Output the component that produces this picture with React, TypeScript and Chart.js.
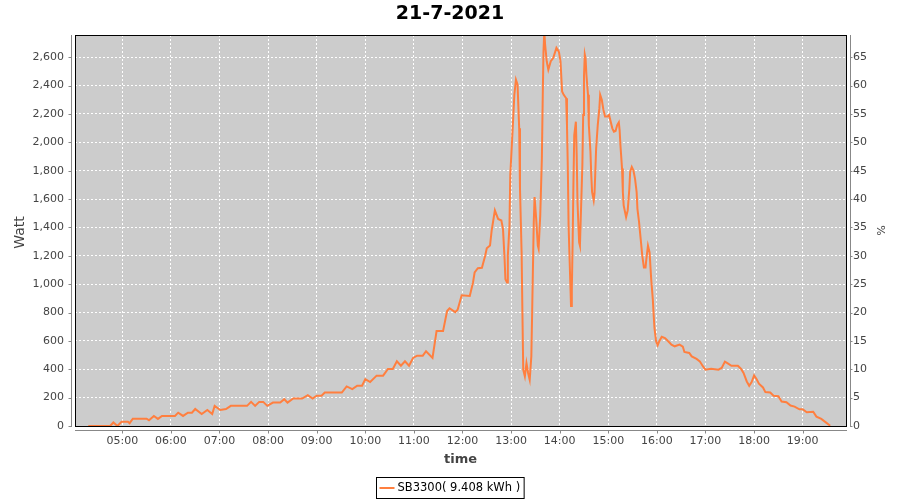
import { useEffect, useRef } from "react";
import { Chart, registerables } from "chart.js";

Chart.register(...registerables);

const chartTitle = "21-7-2021";
const seriesLabel = "SB3300( 9.408 kWh )";
const xTitle = "time";
const yTitle = "Watt";
const y2Title = "%";
const hourTicks = ["05:00", "06:00", "07:00", "08:00", "09:00", "10:00", "11:00", "12:00", "13:00", "14:00", "15:00", "16:00", "17:00", "18:00", "19:00"];
const xRange = ["04:01.6", "19:53.5"];
const wattMax = 2757;
const wattPerPercent = 40;

const times = [
  "04:18", "04:45", "04:49", "04:54", "04:59", "05:07", "05:09", "05:13", "05:30", "05:33",
  "05:39", "05:44", "05:49", "06:05", "06:09", "06:15", "06:21", "06:26", "06:30", "06:38",
  "06:45", "06:51", "06:54", "07:01", "07:08", "07:14", "07:34", "07:39", "07:44", "07:49",
  "07:54", "07:59", "08:06", "08:15", "08:20", "08:24", "08:31", "08:42", "08:49", "08:55",
  "09:00", "09:06", "09:10", "09:31", "09:37", "09:44", "09:50", "09:56", "10:00", "10:06",
  "10:14", "10:22", "10:28", "10:34", "10:39", "10:44", "10:49", "10:54", "10:59", "11:04",
  "11:11", "11:15", "11:23", "11:28", "11:36", "11:41", "11:44", "11:51", "11:54", "11:59",
  "12:09", "12:13", "12:15", "12:19", "12:24", "12:28", "12:30", "12:34", "12:36", "12:38",
  "12:40", "12:44", "12:48", "12:50", "12:52", "12:53", "12:55", "12:56", "12:58", "12:59",
  "13:02", "13:04", "13:06", "13:08", "13:10", "13:11", "13:13", "13:14", "13:15", "13:17",
  "13:19", "13:21", "13:23", "13:25", "13:26", "13:28", "13:29", "13:31", "13:33", "13:34",
  "13:36", "13:38", "13:39", "13:40", "13:41", "13:42", "13:44", "13:46", "13:49", "13:52",
  "13:56", "13:59", "14:01", "14:03", "14:05", "14:08", "14:09", "14:10", "14:11", "14:13",
  "14:14", "14:15", "14:16", "14:17", "14:18", "14:20", "14:21", "14:22", "14:24", "14:25",
  "14:28", "14:29", "14:30", "14:31", "14:32", "14:33", "14:35", "14:36", "14:38", "14:39",
  "14:40", "14:42", "14:43", "14:44", "14:45", "14:47", "14:49", "14:50", "14:52", "14:54",
  "14:56", "14:59", "15:01", "15:03", "15:05", "15:07", "15:09", "15:11", "15:13", "15:14",
  "15:15", "15:17", "15:18", "15:19", "15:22", "15:24", "15:26", "15:27", "15:29", "15:31",
  "15:33", "15:35", "15:36", "15:38", "15:40", "15:42", "15:44", "15:46", "15:47", "15:49",
  "15:51", "15:53", "15:55", "15:56", "15:57", "15:59", "16:01", "16:03", "16:06", "16:10",
  "16:14", "16:18", "16:22", "16:28", "16:32", "16:34", "16:40", "16:43", "16:49", "16:53",
  "16:57", "17:00", "17:07", "17:16", "17:20", "17:24", "17:28", "17:32", "17:40", "17:44",
  "17:47", "17:51", "17:54", "17:57", "18:00", "18:03", "18:06", "18:11", "18:14", "18:20",
  "18:24", "18:30", "18:34", "18:40", "18:45", "18:50", "18:56", "19:00", "19:05", "19:13",
  "19:17", "19:23", "19:29", "19:34",
];

const watts = [
  0, 0, 25, 0, 30, 30, 20, 52, 52, 40,
  71, 50, 71, 71, 94, 71, 94, 94, 120, 85,
  113, 85, 142, 113, 120, 142, 142, 170, 142, 170,
  170, 142, 165, 165, 189, 165, 194, 194, 218, 194,
  213, 213, 236, 236, 279, 260, 284, 284, 331, 310,
  355, 355, 402, 402, 456, 425, 456, 425, 480, 496,
  496, 527, 480, 669, 669, 811, 830, 803, 820, 922,
  917, 1012, 1083, 1113, 1115, 1200, 1253, 1272, 1378, 1449,
  1520, 1460, 1449, 1390, 1177, 1035, 1012, 1200, 1413, 1768,
  2099, 2335, 2441, 2406, 2099, 1673, 1224, 799, 397, 350,
  444, 374, 326, 491, 799, 1437, 1614, 1460, 1272, 1250,
  1484, 1886, 2288, 2643, 2780, 2690, 2572, 2512, 2572, 2595,
  2666, 2640, 2572, 2359, 2335, 2311, 2122, 1838, 1413, 1035,
  846, 964, 1295, 1720, 2051, 2146, 1909, 1579, 1295, 1272,
  1838, 2193, 2465, 2619, 2590, 2477, 2335, 2122, 1934, 1768,
  1650, 1591, 1640, 1792, 1957, 2122, 2241, 2335, 2300, 2229,
  2182, 2182, 2193, 2146, 2099, 2075, 2080, 2122, 2141, 2087,
  1981, 1815, 1650, 1555, 1473, 1520, 1673, 1792, 1827, 1803,
  1744, 1650, 1531, 1437, 1319, 1200, 1118, 1118, 1177, 1272,
  1224, 1035, 893, 787, 693, 598, 569, 598, 629, 620,
  598, 574, 562, 574, 560, 522, 515, 491, 473, 456,
  420, 397, 404, 397, 409, 454, 440, 425, 425, 402,
  374, 314, 284, 310, 357, 331, 298, 272, 239, 236,
  213, 210, 172, 168, 144, 137, 118, 118, 97, 101,
  66, 50, 24, 2,
];

const toMin = (s: string) => {
  const [h, m] = s.split(":");
  return Number(h) * 60 + Number(m);
};
const fmtTime = (v: number) => {
  const h = Math.floor(v / 60);
  const m = Math.round(v - h * 60);
  return String(h).padStart(2, "0") + ":" + String(m).padStart(2, "0");
};

const LINE_COLOR = "rgb(255,127,63)";
const AXIS_COLOR = "#888888";
const TEXT_COLOR = "#444444";
const TICK_FONT = { family: "'DejaVu Sans'", size: 11 };

const framePlugin = {
  id: "frame",
  beforeDraw(chart: any) {
    const { ctx, chartArea: a } = chart;
    ctx.save();
    ctx.fillStyle = "#ffffff";
    ctx.fillRect(0, 0, chart.width, chart.height);
    ctx.fillStyle = "#cccccc";
    ctx.fillRect(a.left, a.top, a.right - a.left, a.bottom - a.top);
    ctx.restore();
  },
  afterDraw(chart: any) {
    const { ctx, chartArea: a, scales } = chart;
    ctx.save();
    // plot outline
    ctx.strokeStyle = "#000000";
    ctx.lineWidth = 1;
    ctx.strokeRect(a.left + 0.5, a.top + 0.5, a.right - a.left, a.bottom - a.top);

    // axis lines offset from plot
    ctx.strokeStyle = AXIS_COLOR;
    ctx.beginPath();
    const lx = a.left - 3.5;
    ctx.moveTo(lx, a.top);
    ctx.lineTo(lx, a.bottom + 1);
    scales.y.ticks.forEach((t: any) => {
      const py = Math.round(scales.y.getPixelForValue(t.value)) + 0.5;
      ctx.moveTo(lx - 3, py);
      ctx.lineTo(lx, py);
    });
    const rx = a.right + 4.5;
    ctx.moveTo(rx, a.top);
    ctx.lineTo(rx, a.bottom + 1);
    scales.y2.ticks.forEach((t: any) => {
      const py = Math.round(scales.y2.getPixelForValue(t.value)) + 0.5;
      ctx.moveTo(rx, py);
      ctx.lineTo(rx + 2, py);
    });
    const by = a.bottom + 4.5;
    ctx.moveTo(a.left, by);
    ctx.lineTo(a.right + 1, by);
    scales.x.ticks.forEach((t: any) => {
      const px = Math.round(scales.x.getPixelForValue(t.value)) + 0.5;
      ctx.moveTo(px, by);
      ctx.lineTo(px, by + 3);
    });
    ctx.stroke();

    // title
    ctx.fillStyle = "#000000";
    ctx.font = "bold 19px 'DejaVu Sans'";
    ctx.textAlign = "center";
    ctx.textBaseline = "middle";
    ctx.fillText(chartTitle, chart.width / 2, 14);

    // axis titles
    ctx.fillStyle = TEXT_COLOR;
    ctx.font = "bold 13px 'DejaVu Sans'";
    ctx.fillText(xTitle, (a.left + a.right) / 2, 460);

    ctx.save();
    ctx.font = "14px 'DejaVu Sans'";
    ctx.translate(20, (a.top + a.bottom) / 2 + 2);
    ctx.rotate(-Math.PI / 2);
    ctx.fillText(yTitle, 0, 0);
    ctx.restore();

    ctx.save();
    ctx.font = "11px 'DejaVu Sans'";
    ctx.translate(880, (a.top + a.bottom) / 2);
    ctx.rotate(Math.PI / 2);
    ctx.fillText(y2Title, 0, 0);
    ctx.restore();

    // legend
    const ds = chart.data.datasets[0];
    ctx.font = "11.5px 'DejaVu Sans'";
    const tw = ctx.measureText(ds.label).width;
    const boxW = 3 + 15 + 3 + tw + 4;
    const bx = Math.round(chart.width / 2 - boxW / 2) + 0.5;
    const byy = 477.5;
    ctx.strokeStyle = "#000000";
    ctx.strokeRect(bx, byy, boxW, 21);
    ctx.strokeStyle = ds.borderColor;
    ctx.lineWidth = 2;
    ctx.beginPath();
    ctx.moveTo(bx + 3, 488);
    ctx.lineTo(bx + 18, 488);
    ctx.stroke();
    ctx.fillStyle = "#000000";
    ctx.textAlign = "left";
    ctx.fillText(ds.label, bx + 21, 488.5);
    ctx.restore();
  },
};

export default function App() {
  const ref = useRef<HTMLCanvasElement>(null);
  useEffect(() => {
    if (!ref.current) return;
    const points = times.map((t, i) => ({ x: toMin(t), y: watts[i] }));
    const chart = new Chart(ref.current, {
      type: "line",
      data: {
        datasets: [
          {
            label: seriesLabel,
            data: points,
            borderColor: LINE_COLOR,
            backgroundColor: LINE_COLOR,
            borderWidth: 2,
            pointRadius: 0,
            tension: 0,
            fill: false,
            yAxisID: "y",
          },
        ],
      },
      options: {
        animation: false,
        responsive: false,
        maintainAspectRatio: false,
        layout: { padding: { top: 35, left: 0, right: 0, bottom: 0 } },
        plugins: {
          legend: { display: false },
          title: { display: false },
          tooltip: { enabled: false },
        },
        scales: {
          x: {
            type: "linear",
            min: toMin(xRange[0].split(".")[0]) + Number("0." + xRange[0].split(".")[1]),
            max: toMin(xRange[1].split(".")[0]) + Number("0." + xRange[1].split(".")[1]),
            afterBuildTicks: (s: any) => {
              s.ticks = hourTicks.map((h) => ({ value: toMin(h) }));
            },
            afterFit: (s: any) => {
              s.height = 74;
            },
            ticks: {
              autoSkip: false,
              maxRotation: 0,
              minRotation: 0,
              padding: 9,
              color: TEXT_COLOR,
              font: TICK_FONT,
              callback: (v: any) => fmtTime(Number(v)),
            },
            grid: { color: "#ffffff", lineWidth: 1, drawTicks: false },
            border: { display: false, dash: [2, 2] },
          },
          y: {
            type: "linear",
            position: "left",
            min: 0,
            max: wattMax,
            afterFit: (s: any) => {
              s.width = 75;
            },
            ticks: {
              stepSize: 200,
              includeBounds: false,
              padding: 11,
              color: TEXT_COLOR,
              font: TICK_FONT,
              callback: (v: any) => Number(v).toLocaleString("en-US"),
            },
            grid: { color: "#ffffff", lineWidth: 1, drawTicks: false },
            border: { display: false, dash: [2, 2] },
          },
          y2: {
            type: "linear",
            position: "right",
            display: true,
            min: 0,
            max: wattMax / wattPerPercent,
            afterFit: (s: any) => {
              s.width = 54;
            },
            ticks: {
              stepSize: 5,
              includeBounds: false,
              padding: 7,
              color: TEXT_COLOR,
              font: TICK_FONT,
            },
            grid: { display: false, drawTicks: false },
            border: { display: false },
          },
        },
      } as any,
      plugins: [framePlugin],
    });
    return () => chart.destroy();
  }, []);

  return (
    <div style={{ position: "fixed", left: 0, top: 0, width: 900, height: 500, background: "#fff" }}>
      <canvas ref={ref} width={900} height={500} style={{ width: 900, height: 500 }} />
    </div>
  );
}
